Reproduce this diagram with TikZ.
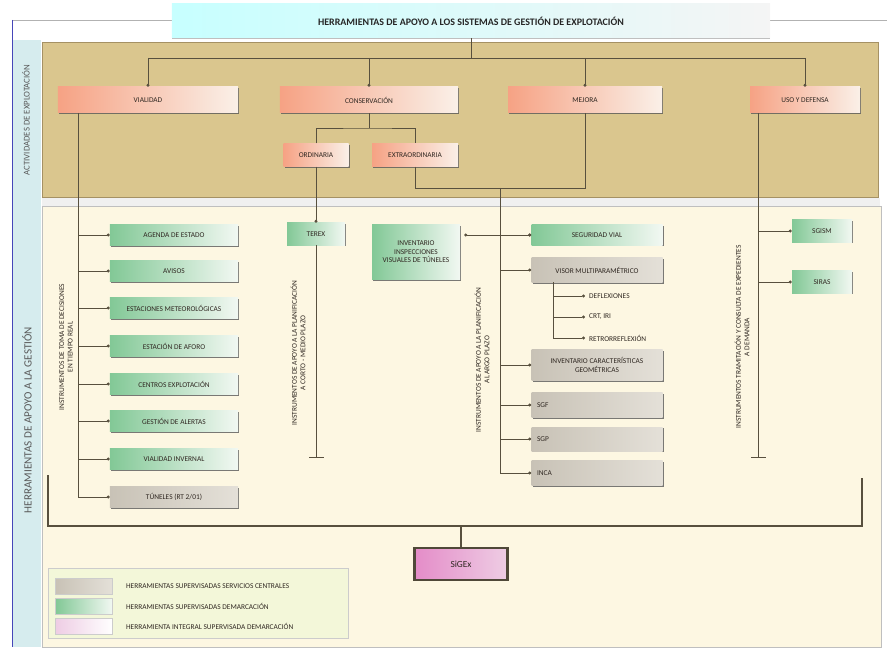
\documentclass[tikz,border=0pt]{standalone}
\usepackage{fontspec}
\setmainfont{Carlito}
\usepackage{xcolor}
\usepackage{tikz}
\usetikzlibrary{calc,arrows.meta,shadows}

\definecolor{tanband}{RGB}{218,198,142}
\definecolor{tanedge}{RGB}{165,145,100}
\definecolor{creamband}{RGB}{253,247,226}
\definecolor{stripblue}{RGB}{214,236,238}
\definecolor{linkcol}{RGB}{88,80,62}
\definecolor{inkcol}{RGB}{48,40,34}
\definecolor{salmon}{RGB}{246,162,132}
\definecolor{salmonlight}{RGB}{250,240,232}
\definecolor{mint}{RGB}{130,200,150}
\definecolor{mintlight}{RGB}{242,248,242}
\definecolor{stone}{RGB}{200,194,182}
\definecolor{stonelight}{RGB}{228,224,216}
\definecolor{orchid}{RGB}{228,140,200}
\definecolor{orchidlight}{RGB}{238,205,228}

\begin{document}
\begin{tikzpicture}[x=0.03cm,y=-0.03cm,
  font=\fontsize{6.3}{7.3}\selectfont, text=inkcol,
  shade/.style={drop shadow={shadow xshift=0.9pt, shadow yshift=-0.9pt, fill=black!65, opacity=0.8}},
  actbox/.style={left color=salmon, right color=salmonlight, minimum height=0.78cm, inner sep=0pt, shade},
  subbox/.style={actbox, minimum height=0.69cm},
  toolbox/.style={left color=mint, right color=mintlight, minimum width=3.84cm, minimum height=0.63cm, inner sep=0pt, shade},
  centralbox/.style={left color=stone, right color=stonelight, minimum width=3.93cm, minimum height=0.75cm, inner sep=0pt, shade},
  link/.style={draw=linkcol, line width=0.6pt},
  tip/.style={link, -{Circle[length=2.6pt]}},
  deadend/.style={link, -{Bar[width=0.45cm]}},
  vlabel/.style={rotate=90, align=center},
  swatch/.style={minimum width=1.71cm, minimum height=0.48cm, inner sep=0pt, draw=gray!40}
]
\useasboundingbox (0,0) rectangle (887,650);

% =====================
% Frame and bands
% =====================
\fill[stripblue] (12,40) rectangle (41,647);
\draw[gray!60] (12,20) -- (887,20);
\draw[blue!45!gray, line width=0.8pt] (12,20) -- (12,647);
\fill[tanband, draw=tanedge, line width=0.8pt] (42,42) rectangle (878,197);
\fill[gray!12] (42,198) rectangle (880,206);
\fill[creamband, draw=gray!50] (42,206) rectangle (881,647);

\node[rotate=90, font=\fontsize{7.5}{8}\selectfont, text=gray!70!black] (ActLabel) at (26,120) {ACTIVIDADES DE EXPLOTACIÓN};
\node[rotate=90, font=\fontsize{9.5}{10}\selectfont, text=gray!70!black] (ToolLabel) at (27,420) {HERRAMIENTAS DE APOYO A LA GESTIÓN};

% =====================
% Title
% =====================
\node[left color=cyan!22, right color=gray!8, minimum width=17.94cm, minimum height=1.02cm,
      font=\bfseries\fontsize{8.5}{9}\selectfont, text=black!85, inner sep=0pt,
      drop shadow={shadow xshift=0pt, shadow yshift=-1pt, fill=gray, opacity=0.5}]
  (Title) at (471,21) {HERRAMIENTAS DE APOYO A LOS SISTEMAS DE GESTIÓN DE EXPLOTACIÓN};

% =====================
% Activities
% =====================
\node[actbox, minimum width=5.4cm] (Vialidad) at (148,100) {VIALIDAD};
\node[actbox, minimum width=5.34cm] (Conservacion) at (369,100) {CONSERVACIÓN};
\node[actbox, minimum width=4.62cm] (Mejora) at (585,100) {MEJORA};
\node[actbox, minimum width=3.3cm] (UsoDefensa) at (805,100) {USO Y DEFENSA};
\node[subbox, minimum width=1.95cm] (Ordinaria) at (316,155) {ORDINARIA};
\node[subbox, minimum width=2.58cm] (Extraordinaria) at (415,155) {EXTRAORDINARIA};

% =====================
% Real time tools (left column)
% =====================
\node[toolbox] (Agenda) at (174,235) {AGENDA DE ESTADO};
\node[toolbox] (Avisos) at (174,271) {AVISOS};
\node[toolbox] (Meteo) at (174,308) {ESTACIONES METEOROLÓGICAS};
\node[toolbox] (Aforo) at (174,346) {ESTACIÓN DE AFORO};
\node[toolbox] (Centros) at (174,384) {CENTROS EXPLOTACIÓN};
\node[toolbox] (Alertas) at (174,421) {GESTIÓN DE ALERTAS};
\node[toolbox] (Invernal) at (174,459) {VIALIDAD INVERNAL};
\node[toolbox, left color=stone, right color=stonelight] (Tuneles) at (174,497) {TÚNELES (RT 2/01)};
\node[vlabel] (RealLabel) at (66,347) {INSTRUMENTOS DE TOMA DE DECISIONES\\EN TIEMPO REAL};

% =====================
% Short and mid term planning
% =====================
\node[toolbox, minimum width=1.74cm, minimum height=0.66cm] (Terex) at (316,234) {TEREX};
\node[toolbox, minimum width=2.64cm, minimum height=1.65cm, align=center] (Inspecc) at (416,252)
  {INVENTARIO\\INSPECCIONES\\VISUALES DE TÚNELES};
\node[vlabel] (ShortLabel) at (298,353) {INSTRUMENTOS DE APOYO A LA PLANIFICACIÓN\\A CORTO - MEDIO PLAZO};

% =====================
% Long term planning
% =====================
\node[toolbox, minimum width=3.93cm, minimum height=0.6cm] (SegVial) at (597,235) {SEGURIDAD VIAL};
\node[centralbox] (Visor) at (597,270) {VISOR MULTIPARAMÉTRICO};
\node[centralbox, minimum height=0.93cm, align=center] (Geom) at (597,365) {INVENTARIO CARACTERÍSTICAS\\GEOMÉTRICAS};
\node[centralbox, text width=3.6cm, inner xsep=0.165cm, align=left] (Sgf) at (597,405) {SGF};
\node[centralbox, text width=3.6cm, inner xsep=0.165cm, align=left, minimum height=0.72cm] (Sgp) at (597,439) {SGP};
\node[centralbox, text width=3.6cm, inner xsep=0.165cm, align=left] (Inca) at (597,473) {INCA};
\node[anchor=west] (Deflex) at (585,296) {DEFLEXIONES};
\node[anchor=west] (CrtIri) at (585,317) {CRT, IRI};
\node[anchor=west] (Retro) at (585,338) {RETRORREFLEXIÓN};
\node[vlabel] (LongLabel) at (482,360) {INSTRUMENTOS DE APOYO A LA PLANIFICACIÓN\\A LARGO PLAZO};

% =====================
% On demand tools
% =====================
\node[toolbox, minimum width=1.8cm, minimum height=0.66cm] (Sgism) at (822,231) {SGISM};
\node[toolbox, minimum width=1.8cm, minimum height=0.66cm] (Siras) at (822,282) {SIRAS};
\node[vlabel] (DemandLabel) at (742,337) {INSTRUMENTOS TRAMITACIÓN Y CONSULTA DE EXPEDIENTES\\A DEMANDA};

% =====================
% Integral tool
% =====================
\node[left color=orchid, right color=orchidlight, draw=linkcol!90!black, line width=2pt,
      minimum width=2.79cm, minimum height=0.96cm, font=\fontsize{8}{9}\selectfont] (Sigex) at (461,564) {SiGEx};

% =====================
% Connectors
% =====================
\coordinate (TopRail) at (0,58);
\draw[link] (Title.south) -- (Title.south |- TopRail);
\draw[link] (Vialidad.north |- TopRail) -- (UsoDefensa.north |- TopRail);
\foreach \n in {Vialidad,Conservacion,Mejora,UsoDefensa}
  \draw[tip] (\n.north |- TopRail) -- (\n.north);

\coordinate (SplitRail) at (0,128);
\draw[link] (Conservacion.south) -- (Conservacion.south |- SplitRail);
\draw[link] (Ordinaria.north) |- (Conservacion.south |- SplitRail) -| (Extraordinaria.north);

% Mejora and Extraordinaria merge into the long term trunk
\coordinate (MergeRail) at (0,188);
\coordinate (LongTop) at (500,188);
\draw[link] (Extraordinaria.south) |- (Mejora.south |- MergeRail) -- (Mejora.south);
\draw[link] (LongTop) -- (LongTop |- Inca.west);
\foreach \n in {SegVial,Visor,Geom,Sgf,Sgp,Inca}
  \draw[tip] (LongTop |- \n.west) -- (\n.west);
\draw[link, {Circle[length=2.6pt]}-{Circle[length=2.6pt]}] ($(Inspecc.east |- SegVial.west)+(4,0)$) -- (SegVial.west);

% Visor branches
\coordinate (VisorTrunk) at (553,282);
\draw[link] (VisorTrunk) -- (VisorTrunk |- Retro.west);
\foreach \n in {Deflex,CrtIri,Retro}
  \draw[tip] (VisorTrunk |- \n.west) -- (\n.west);

% Vialidad trunk
\coordinate (VialTrunk) at (78,113);
\draw[link] (VialTrunk) -- (VialTrunk |- Tuneles.west);
\foreach \n in {Agenda,Avisos,Meteo,Aforo,Centros,Alertas,Invernal,Tuneles}
  \draw[tip] (VialTrunk |- \n.west) -- (\n.west);

% Ordinaria to Terex
\draw[tip] (Ordinaria.south) -- (Terex.north);
\draw[deadend] (Terex.south) -- (Terex.south |- 0,458);

% Uso y defensa trunk
\coordinate (UsoTrunk) at (758,113);
\draw[deadend] (UsoTrunk) -- (UsoTrunk |- 0,458);
\foreach \n in {Sgism,Siras}
  \draw[tip] (UsoTrunk |- \n.west) -- (\n.west);

% Bracket gathering every tool into the integral one
\draw[draw=linkcol, line width=1.6pt] (48,475) |- (862,526) -- (862,478);
\draw[link, line width=1pt] (Sigex.north |- 0,526) -- (Sigex.north);

% =====================
% Legend
% =====================
\node[fill=green!4!creamband, draw=gray!40, minimum width=9cm, minimum height=2.1cm] (Legend) at (198,603) {};
\node[swatch, left color=stone, right color=stonelight] (KeyStone) at (84,586) {};
\node[swatch, left color=mint, right color=mintlight] (KeyMint) at (84,606) {};
\node[swatch, left color=orchidlight, right color=white] (KeyOrchid) at (84,626) {};
\node[anchor=west] (KeyStoneText) at (122,586) {HERRAMIENTAS SUPERVISADAS SERVICIOS CENTRALES};
\node[anchor=west] (KeyMintText) at (122,606) {HERRAMIENTAS SUPERVISADAS DEMARCACIÓN};
\node[anchor=west] (KeyOrchidText) at (122,626) {HERRAMIENTA INTEGRAL SUPERVISADA DEMARCACIÓN};
\end{tikzpicture}
\end{document}
